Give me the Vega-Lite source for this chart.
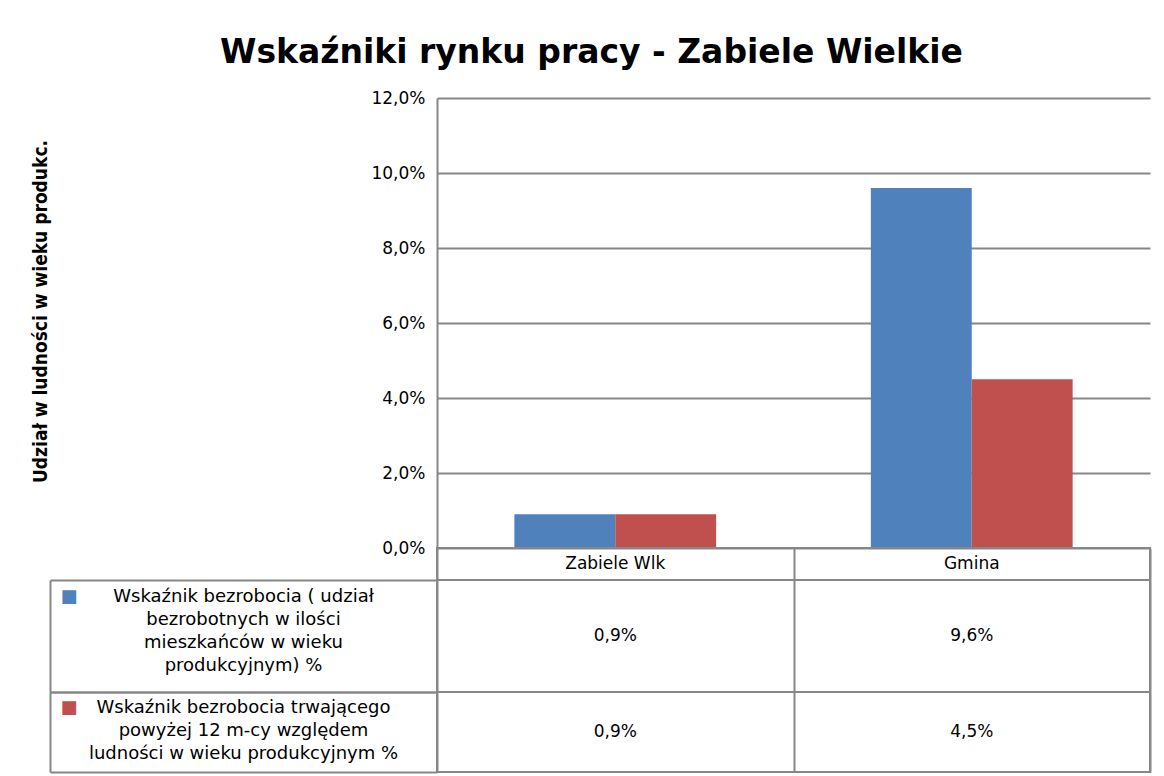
{
  "$schema": "https://vega.github.io/schema/vega-lite/v6.json",
  "background": "white",
  "padding": {"left": 31, "top": 37, "right": 5, "bottom": 0},
  "title": {"text": "Wskaźniki rynku pracy - Zabiele Wielkie", "font": "DejaVu Sans", "fontSize": 33, "fontWeight": "bold", "color": "#000000", "anchor": "middle", "offset": 19},
  "data": {"values": [
    {"category": "Zabiele Wlk", "series": "Wskaźnik bezrobocia ( udział bezrobotnych w ilości mieszkańców w wieku produkcyjnym) %", "value": 0.009},
    {"category": "Gmina", "series": "Wskaźnik bezrobocia ( udział bezrobotnych w ilości mieszkańców w wieku produkcyjnym) %", "value": 0.096},
    {"category": "Zabiele Wlk", "series": "Wskaźnik bezrobocia trwającego powyżej 12 m-cy względem ludności w wieku produkcyjnym %", "value": 0.009},
    {"category": "Gmina", "series": "Wskaźnik bezrobocia trwającego powyżej 12 m-cy względem ludności w wieku produkcyjnym %", "value": 0.045}
  ]},
  "spacing": 0,
  "bounds": "flush",
  "resolve": {"scale": {"x": "independent", "y": "independent", "color": "independent"}},
  "vconcat": [
    {
      "width": 713,
      "height": 450,
      "view": {"stroke": null},
      "mark": {"type": "bar"},
      "encoding": {
        "x": {"field": "category", "type": "nominal", "sort": ["Zabiele Wlk", "Gmina"], "scale": {"paddingInner": 0.434, "paddingOuter": 0.217}, "axis": null},
        "xOffset": {"field": "series", "type": "nominal", "sort": ["Wskaźnik bezrobocia ( udział bezrobotnych w ilości mieszkańców w wieku produkcyjnym) %", "Wskaźnik bezrobocia trwającego powyżej 12 m-cy względem ludności w wieku produkcyjnym %"], "scale": {"paddingInner": 0, "paddingOuter": 0}},
        "y": {"field": "value", "type": "quantitative", "scale": {"domain": [0, 0.12], "nice": false},
          "axis": {"values": [0, 0.02, 0.04, 0.06, 0.08, 0.1, 0.12], "format": ".1%", "grid": true, "gridColor": "#878787", "gridWidth": 2, "domain": true, "domainColor": "#878787", "domainWidth": 2, "ticks": false, "labelPadding": 12, "labelFont": "DejaVu Sans", "labelFontSize": 17, "labelColor": "#000000",
            "title": "Udział  w ludności  w wieku produkc.", "titleFont": "DejaVu Sans Condensed, Liberation Sans", "titleFontSize": 19, "titleFontWeight": "bold", "titleColor": "#000000", "titlePadding": 320, "titleY": 213}},
        "color": {"field": "series", "type": "nominal", "scale": {"domain": ["Wskaźnik bezrobocia ( udział bezrobotnych w ilości mieszkańców w wieku produkcyjnym) %", "Wskaźnik bezrobocia trwającego powyżej 12 m-cy względem ludności w wieku produkcyjnym %"], "range": ["#4F81BD", "#C0504D"]}, "legend": null}
      }
    },
    {
      "width": 713,
      "height": 32,
      "view": {"stroke": "#878787", "strokeWidth": 2},
      "transform": [{"filter": "datum.series == 'Wskaźnik bezrobocia ( udział bezrobotnych w ilości mieszkańców w wieku produkcyjnym) %'"}],
      "mark": {"type": "text", "font": "DejaVu Sans", "fontSize": 17, "color": "#000000"},
      "encoding": {
        "x": {"field": "category", "type": "nominal", "sort": ["Zabiele Wlk", "Gmina"], "scale": {"type": "band", "paddingInner": 0, "paddingOuter": 0}, "axis": {"grid": true, "tickBand": "extent", "gridColor": "#878787", "gridWidth": 2, "labels": false, "ticks": false, "domain": false, "title": null}},
        "text": {"field": "category"}
      }
    },
    {
      "width": 713,
      "height": 112,
      "view": {"stroke": "#878787", "strokeWidth": 2},
      "transform": [{"filter": "datum.series == 'Wskaźnik bezrobocia ( udział bezrobotnych w ilości mieszkańców w wieku produkcyjnym) %'"}],
      "layer": [
        {
          "mark": {"type": "text", "font": "DejaVu Sans", "fontSize": 17, "color": "#000000"},
          "encoding": {
            "x": {"field": "category", "type": "nominal", "sort": ["Zabiele Wlk", "Gmina"], "scale": {"type": "band", "paddingInner": 0, "paddingOuter": 0}, "axis": {"grid": true, "tickBand": "extent", "gridColor": "#878787", "gridWidth": 2, "labels": false, "ticks": false, "domain": false, "title": null}},
            "y": {"field": "series", "type": "nominal", "scale": {"type": "band", "paddingInner": 0, "paddingOuter": 0},
              "axis": {"orient": "left", "title": null, "domain": false, "ticks": false, "tickSize": 0, "labelExpr": "['Wskaźnik bezrobocia ( udział', 'bezrobotnych w ilości', 'mieszkańców w wieku', 'produkcyjnym) %']", "labelAlign": "center", "labelBaseline": "middle", "labelPadding": 194, "labelOffset": -39, "labelLineHeight": 23, "labelFont": "DejaVu Sans", "labelFontSize": 18, "labelColor": "#000000", "labelLimit": 0}},
            "text": {"field": "value", "type": "quantitative", "format": ".1%"}
          }
        },
        {
          "mark": {"type": "text", "text": ""},
          "encoding": {
            "y": {"field": "series", "type": "nominal", "scale": {"type": "band", "paddingInner": 0, "paddingOuter": 0},
              "axis": {"orient": "left", "offset": 387, "title": null, "domain": true, "domainColor": "#878787", "domainWidth": 2, "ticks": false, "tickSize": 0, "labelExpr": "'■'", "labelAlign": "left", "labelBaseline": "middle", "labelPadding": -10, "labelOffset": -39, "labelFont": "DejaVu Sans", "labelFontSize": 18, "labelColor": "#4F81BD"}}
          }
        },
        {
          "mark": {"type": "text", "text": ""},
          "encoding": {
            "y": {"field": "series", "type": "nominal", "scale": {"type": "band", "paddingInner": 0, "paddingOuter": 0},
              "axis": {"orient": "left", "title": null, "domain": false, "ticks": true, "tickBand": "extent", "tickSize": 387, "tickColor": "#878787", "tickWidth": 2, "labels": false}}
          }
        }
      ],
      "resolve": {"axis": {"y": "independent"}}
    },
    {
      "width": 713,
      "height": 80,
      "view": {"stroke": "#878787", "strokeWidth": 2},
      "transform": [{"filter": "datum.series == 'Wskaźnik bezrobocia trwającego powyżej 12 m-cy względem ludności w wieku produkcyjnym %'"}],
      "layer": [
        {
          "mark": {"type": "text", "font": "DejaVu Sans", "fontSize": 17, "color": "#000000"},
          "encoding": {
            "x": {"field": "category", "type": "nominal", "sort": ["Zabiele Wlk", "Gmina"], "scale": {"type": "band", "paddingInner": 0, "paddingOuter": 0}, "axis": {"grid": true, "tickBand": "extent", "gridColor": "#878787", "gridWidth": 2, "labels": false, "ticks": false, "domain": false, "title": null}},
            "y": {"field": "series", "type": "nominal", "scale": {"type": "band", "paddingInner": 0, "paddingOuter": 0},
              "axis": {"orient": "left", "title": null, "domain": false, "ticks": false, "tickSize": 0, "labelExpr": "['Wskaźnik bezrobocia trwającego', 'powyżej 12 m-cy względem', 'ludności w wieku produkcyjnym %']", "labelAlign": "center", "labelBaseline": "middle", "labelPadding": 194, "labelOffset": -24, "labelLineHeight": 23, "labelFont": "DejaVu Sans", "labelFontSize": 18, "labelColor": "#000000", "labelLimit": 0}},
            "text": {"field": "value", "type": "quantitative", "format": ".1%"}
          }
        },
        {
          "mark": {"type": "text", "text": ""},
          "encoding": {
            "y": {"field": "series", "type": "nominal", "scale": {"type": "band", "paddingInner": 0, "paddingOuter": 0},
              "axis": {"orient": "left", "offset": 387, "title": null, "domain": true, "domainColor": "#878787", "domainWidth": 2, "ticks": false, "tickSize": 0, "labelExpr": "'■'", "labelAlign": "left", "labelBaseline": "middle", "labelPadding": -10, "labelOffset": -24, "labelFont": "DejaVu Sans", "labelFontSize": 18, "labelColor": "#C0504D"}}
          }
        },
        {
          "mark": {"type": "text", "text": ""},
          "encoding": {
            "y": {"field": "series", "type": "nominal", "scale": {"type": "band", "paddingInner": 0, "paddingOuter": 0},
              "axis": {"orient": "left", "title": null, "domain": false, "ticks": true, "tickBand": "extent", "tickSize": 387, "tickColor": "#878787", "tickWidth": 2, "labels": false}}
          }
        }
      ],
      "resolve": {"axis": {"y": "independent"}}
    }
  ],
  "config": {
    "locale": {"number": {"decimal": ",", "thousands": " ", "grouping": [3], "currency": ["", " zł"]}}
  }
}
